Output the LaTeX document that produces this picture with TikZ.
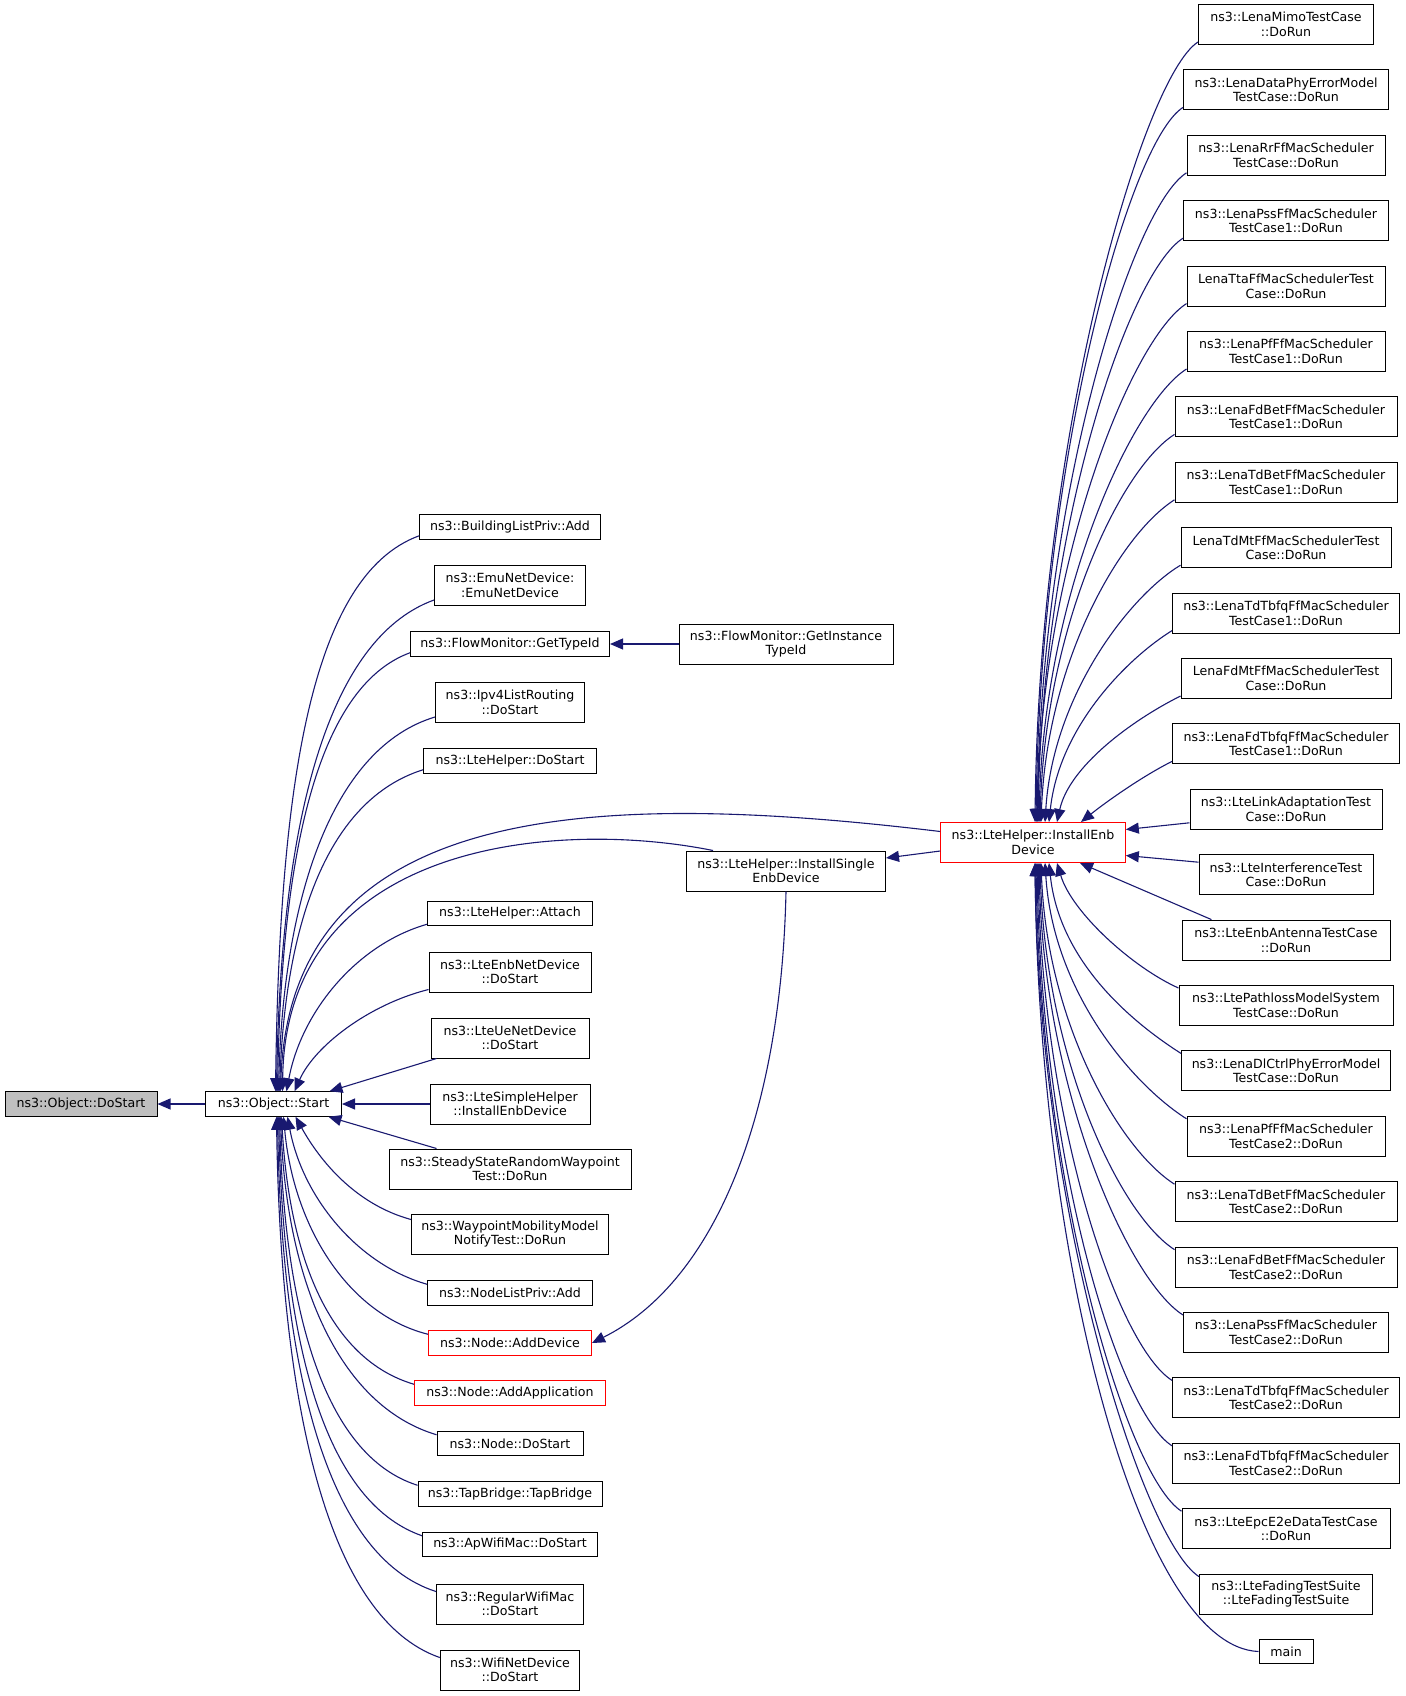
\documentclass[tikz,border=0pt]{standalone}
\usepackage{fontspec}
\setmainfont{DejaVu Sans}
\usetikzlibrary{arrows.meta}
\definecolor{midnight}{HTML}{191970}
\definecolor{grey75}{HTML}{BFBFBF}

\begin{document}
\begin{tikzpicture}[x=1pt, y=-1pt,
		fn/.style={draw=black, line width=1pt, align=center, inner xsep=2pt, inner ysep=1pt, minimum height=24.5pt, font=\fontsize{12.6}{14.5}\selectfont},
		tall/.style={minimum height=40pt},
		hot/.style={draw=red},
		call/.style={draw=midnight, line width=1.1pt, -{Triangle[length=13pt,width=11pt]}}]
		%%%%% START %%%%%
		
		\useasboundingbox (0, 0) rectangle (1405, 1696);
		
		\node[fn, minimum width=152pt, fill=grey75] (dostart) at (81, 1104) {ns3::Object::DoStart};
		\node[fn, minimum width=136pt] (start) at (273.5, 1104) {ns3::Object::Start};
		
		\node[fn, minimum width=180.5pt] (blp) at (510, 527) {ns3::BuildingListPriv::Add};
		\node[fn, tall, minimum width=151pt] (emu) at (510, 585.5) {ns3::EmuNetDevice:\\:EmuNetDevice};
		\node[fn, minimum width=199pt] (flowtid) at (510, 644) {ns3::FlowMonitor::GetTypeId};
		\node[fn, tall, minimum width=149pt] (ipv4) at (510, 702.5) {ns3::Ipv4ListRouting\\::DoStart};
		\node[fn, minimum width=173pt] (ltedostart) at (510, 761) {ns3::LteHelper::DoStart};
		\node[fn, minimum width=165pt] (attach) at (510, 913.5) {ns3::LteHelper::Attach};
		\node[fn, tall, minimum width=162pt] (enbdev) at (510, 972) {ns3::LteEnbNetDevice\\::DoStart};
		\node[fn, tall, minimum width=158pt] (uedev) at (510, 1038) {ns3::LteUeNetDevice\\::DoStart};
		\node[fn, tall, minimum width=160pt] (simple) at (510, 1104) {ns3::LteSimpleHelper\\::InstallEnbDevice};
		\node[fn, tall, minimum width=242pt] (steady) at (510, 1169) {ns3::SteadyStateRandomWaypoint\\Test::DoRun};
		\node[fn, tall, minimum width=197pt] (waypoint) at (510, 1234) {ns3::WaypointMobilityModel\\NotifyTest::DoRun};
		\node[fn, minimum width=165pt] (nodelist) at (510, 1293) {ns3::NodeListPriv::Add};
		\node[fn, hot, minimum width=163pt] (adddev) at (510, 1343) {ns3::Node::AddDevice};
		\node[fn, hot, minimum width=191pt] (addapp) at (510, 1393) {ns3::Node::AddApplication};
		\node[fn, minimum width=146pt] (nodedostart) at (510, 1443.5) {ns3::Node::DoStart};
		\node[fn, minimum width=184pt] (tapbridge) at (510, 1494) {ns3::TapBridge::TapBridge};
		\node[fn, minimum width=175pt] (apwifi) at (510, 1544.5) {ns3::ApWifiMac::DoStart};
		\node[fn, tall, minimum width=147pt] (regwifi) at (510, 1604) {ns3::RegularWifiMac\\::DoStart};
		\node[fn, tall, minimum width=139.5pt] (wifidev) at (510, 1670) {ns3::WifiNetDevice\\::DoStart};
		
		\node[fn, tall, minimum width=214pt] (flowinst) at (786, 644) {ns3::FlowMonitor::GetInstance\\TypeId};
		\node[fn, tall, minimum width=199pt] (single) at (786, 871) {ns3::LteHelper::InstallSingle\\EnbDevice};
		\node[fn, tall, hot, minimum width=184.6pt] (enb) at (1033, 842.5) {ns3::LteHelper::InstallEnb\\Device};
		
		\node[fn, tall, minimum width=175pt] (mimo) at (1286, 24.5) {ns3::LenaMimoTestCase\\::DoRun};
		\node[fn, tall, minimum width=205pt] (dataphy) at (1286, 89.9) {ns3::LenaDataPhyErrorModel\\TestCase::DoRun};
		\node[fn, tall, minimum width=198pt] (rr) at (1286, 155.3) {ns3::LenaRrFfMacScheduler\\TestCase::DoRun};
		\node[fn, tall, minimum width=205pt] (pssa) at (1286, 220.7) {ns3::LenaPssFfMacScheduler\\TestCase1::DoRun};
		\node[fn, tall, minimum width=198pt] (tta) at (1286, 286.1) {LenaTtaFfMacSchedulerTest\\Case::DoRun};
		\node[fn, tall, minimum width=198pt] (pfa) at (1286, 351.5) {ns3::LenaPfFfMacScheduler\\TestCase1::DoRun};
		\node[fn, tall, minimum width=222pt] (fdbeta) at (1286, 416.9) {ns3::LenaFdBetFfMacScheduler\\TestCase1::DoRun};
		\node[fn, tall, minimum width=222pt] (tdbeta) at (1286, 482.3) {ns3::LenaTdBetFfMacScheduler\\TestCase1::DoRun};
		\node[fn, tall, minimum width=210pt] (tdmt) at (1286, 547.7) {LenaTdMtFfMacSchedulerTest\\Case::DoRun};
		\node[fn, tall, minimum width=227pt] (tdtbfqa) at (1286, 613.1) {ns3::LenaTdTbfqFfMacScheduler\\TestCase1::DoRun};
		\node[fn, tall, minimum width=210pt] (fdmt) at (1286, 678.5) {LenaFdMtFfMacSchedulerTest\\Case::DoRun};
		\node[fn, tall, minimum width=227pt] (fdtbfqa) at (1286, 743.9) {ns3::LenaFdTbfqFfMacScheduler\\TestCase1::DoRun};
		\node[fn, tall, minimum width=192pt] (linkad) at (1286, 809.3) {ns3::LteLinkAdaptationTest\\Case::DoRun};
		\node[fn, tall, minimum width=174pt] (interf) at (1286, 874.7) {ns3::LteInterferenceTest\\Case::DoRun};
		\node[fn, tall, minimum width=208pt] (antenna) at (1286, 940.1) {ns3::LteEnbAntennaTestCase\\::DoRun};
		\node[fn, tall, minimum width=214pt] (pathloss) at (1286, 1005.5) {ns3::LtePathlossModelSystem\\TestCase::DoRun};
		\node[fn, tall, minimum width=209pt] (dlctrl) at (1286, 1070.9) {ns3::LenaDlCtrlPhyErrorModel\\TestCase::DoRun};
		\node[fn, tall, minimum width=198pt] (pfb) at (1286, 1136.3) {ns3::LenaPfFfMacScheduler\\TestCase2::DoRun};
		\node[fn, tall, minimum width=222pt] (tdbetb) at (1286, 1201.7) {ns3::LenaTdBetFfMacScheduler\\TestCase2::DoRun};
		\node[fn, tall, minimum width=222pt] (fdbetb) at (1286, 1267.1) {ns3::LenaFdBetFfMacScheduler\\TestCase2::DoRun};
		\node[fn, tall, minimum width=205pt] (pssb) at (1286, 1332.5) {ns3::LenaPssFfMacScheduler\\TestCase2::DoRun};
		\node[fn, tall, minimum width=227pt] (tdtbfqb) at (1286, 1397.9) {ns3::LenaTdTbfqFfMacScheduler\\TestCase2::DoRun};
		\node[fn, tall, minimum width=227pt] (fdtbfqb) at (1286, 1463.3) {ns3::LenaFdTbfqFfMacScheduler\\TestCase2::DoRun};
		\node[fn, tall, minimum width=208pt] (epc) at (1286, 1528.7) {ns3::LteEpcE2eDataTestCase\\::DoRun};
		\node[fn, tall, minimum width=173pt] (fading) at (1286, 1594.1) {ns3::LteFadingTestSuite\\::LteFadingTestSuite};
		\node[fn, minimum width=54pt] (main) at (1286, 1651.5) {main};
		
		\draw[call] (start) -- (dostart);
		\draw[call] (flowinst) -- (flowtid);
		\draw[call] ([yshift=-8.5pt]enb.west) -- ([yshift=13pt]single.east);
		\draw[call] (single.south) .. controls +(-5,230) and +(120,-60) .. (adddev.east);
		
		\draw[call] ([yshift=4pt]blp.south west) .. controls +(-110,40) and +(4,-300) .. ([xshift=2pt]start.north);
		\draw[call] ([yshift=6pt]emu.south west) .. controls +(-110,40) and +(4,-260) .. ([xshift=3pt]start.north);
		\draw[call] ([yshift=4pt]flowtid.south west) .. controls +(-95,35) and +(4,-230) .. ([xshift=4pt]start.north);
		\draw[call] ([yshift=6pt]ipv4.south west) .. controls +(-100,30) and +(5,-200) .. ([xshift=5pt]start.north);
		\draw[call] ([yshift=4pt]ltedostart.south west) .. controls +(-95,30) and +(6,-170) .. ([xshift=6pt]start.north);
		\draw[call] ([yshift=11pt]enb.west) .. controls +(-341,-41) and +(10,-292) .. ([xshift=7pt]start.north);
		\draw[call] ([xshift=27pt]single.north west) .. controls +(-153,-31) and +(3,-252) .. ([xshift=9pt]start.north);
		\draw[call] ([yshift=2pt]attach.south west) .. controls +(-70,20) and +(15,-80) .. ([xshift=13pt]start.north);
		\draw[call] ([yshift=3pt]enbdev.south west) .. controls +(-60,15) and +(20,-45) .. ([xshift=21pt]start.north);
		\draw[call] ([xshift=6pt]uedev.south west) -- ([xshift=56pt]start.north);
		\draw[call] (simple) -- (start);
		\draw[call] ([xshift=48pt]steady.north west) -- ([xshift=55pt]start.south);
		\draw[call] ([yshift=-6pt]waypoint.north west) .. controls +(-55,-15) and +(25,45) .. ([xshift=22pt]start.south);
		\draw[call] ([yshift=-4pt]nodelist.north west) .. controls +(-70,-20) and +(15,80) .. ([xshift=14pt]start.south);
		\draw[call] ([yshift=-4pt]adddev.north west) .. controls +(-80,-20) and +(10,110) .. ([xshift=10pt]start.south);
		\draw[call] ([yshift=-4pt]addapp.north west) .. controls +(-85,-25) and +(8,140) .. ([xshift=8pt]start.south);
		\draw[call] ([yshift=-4pt]nodedostart.north west) .. controls +(-100,-30) and +(6,160) .. ([xshift=7pt]start.south);
		\draw[call] ([yshift=-4pt]tapbridge.north west) .. controls +(-95,-30) and +(5,190) .. ([xshift=6pt]start.south);
		\draw[call] ([yshift=-4pt]apwifi.north west) .. controls +(-100,-35) and +(5,220) .. ([xshift=5pt]start.south);
		\draw[call] ([yshift=-8pt]regwifi.north west) .. controls +(-110,-35) and +(4,250) .. ([xshift=4pt]start.south);
		\draw[call] ([yshift=-8pt]wifidev.north west) .. controls +(-115,-40) and +(4,280) .. ([xshift=3pt]start.south);
		
		\draw[call] ([yshift=3pt]mimo.south west) .. controls +(-55,35) and +(4,-390) .. ([xshift=2pt]enb.north);
		\draw[call] ([yshift=3pt]dataphy.south west) .. controls +(-55,35) and +(4,-357) .. ([xshift=3pt]enb.north);
		\draw[call] ([yshift=3pt]rr.south west) .. controls +(-55,35) and +(4,-325) .. ([xshift=4pt]enb.north);
		\draw[call] ([yshift=3pt]pssa.south west) .. controls +(-55,35) and +(4,-292) .. ([xshift=5pt]enb.north);
		\draw[call] ([yshift=3pt]tta.south west) .. controls +(-55,35) and +(4,-260) .. ([xshift=4pt]enb.north);
		\draw[call] ([yshift=3pt]pfa.south west) .. controls +(-55,35) and +(4,-226) .. ([xshift=6pt]enb.north);
		\draw[call] ([yshift=3pt]fdbeta.south west) .. controls +(-55,35) and +(5,-194) .. ([xshift=7pt]enb.north);
		\draw[call] ([yshift=3pt]tdbeta.south west) .. controls +(-55,35) and +(6,-160) .. ([xshift=8pt]enb.north);
		\draw[call] ([yshift=3pt]tdmt.south west) .. controls +(-50,30) and +(8,-128) .. ([xshift=12pt]enb.north);
		\draw[call] ([yshift=3pt]tdtbfqa.south west) .. controls +(-45,28) and +(10,-95) .. ([xshift=16pt]enb.north);
		\draw[call] ([yshift=3pt]fdmt.south west) .. controls +(-50,25) and +(12,-55) .. ([xshift=24pt]enb.north);
		\draw[call] ([yshift=3pt]fdtbfqa.south west) .. controls +(-30,15) and +(25,-20) .. ([xshift=48pt]enb.north);
		\draw[call] ([yshift=7pt]linkad.south west) -- ([yshift=13pt]enb.east);
		\draw[call] ([yshift=-8pt]interf.north west) -- ([yshift=-13pt]enb.east);
		\draw[call] ([xshift=30pt]antenna.north west) -- ([xshift=47pt]enb.south);
		\draw[call] ([yshift=-3pt]pathloss.north west) .. controls +(-45,-20) and +(15,50) .. ([xshift=24pt]enb.south);
		\draw[call] ([yshift=-3pt]dlctrl.north west) .. controls +(-55,-35) and +(10,95) .. ([xshift=16pt]enb.south);
		\draw[call] ([yshift=-3pt]pfb.north west) .. controls +(-55,-35) and +(8,128) .. ([xshift=12pt]enb.south);
		\draw[call] ([yshift=-3pt]tdbetb.north west) .. controls +(-55,-35) and +(6,160) .. ([xshift=8pt]enb.south);
		\draw[call] ([yshift=-3pt]fdbetb.north west) .. controls +(-55,-35) and +(5,194) .. ([xshift=7pt]enb.south);
		\draw[call] ([yshift=-3pt]pssb.north west) .. controls +(-55,-35) and +(4,226) .. ([xshift=6pt]enb.south);
		\draw[call] ([yshift=-3pt]tdtbfqb.north west) .. controls +(-55,-35) and +(4,259) .. ([xshift=5pt]enb.south);
		\draw[call] ([yshift=-3pt]fdtbfqb.north west) .. controls +(-55,-35) and +(4,292) .. ([xshift=4pt]enb.south);
		\draw[call] ([yshift=-3pt]epc.north west) .. controls +(-55,-35) and +(4,324) .. ([xshift=3pt]enb.south);
		\draw[call] ([yshift=-3pt]fading.north west) .. controls +(-55,-35) and +(4,357) .. ([xshift=2pt]enb.south);
		\draw[call] (main.west) .. controls +(-120,-5) and +(4,395) .. ([xshift=2pt]enb.south);
		
		%%%%% END %%%%%
	\end{tikzpicture}
\end{document}
